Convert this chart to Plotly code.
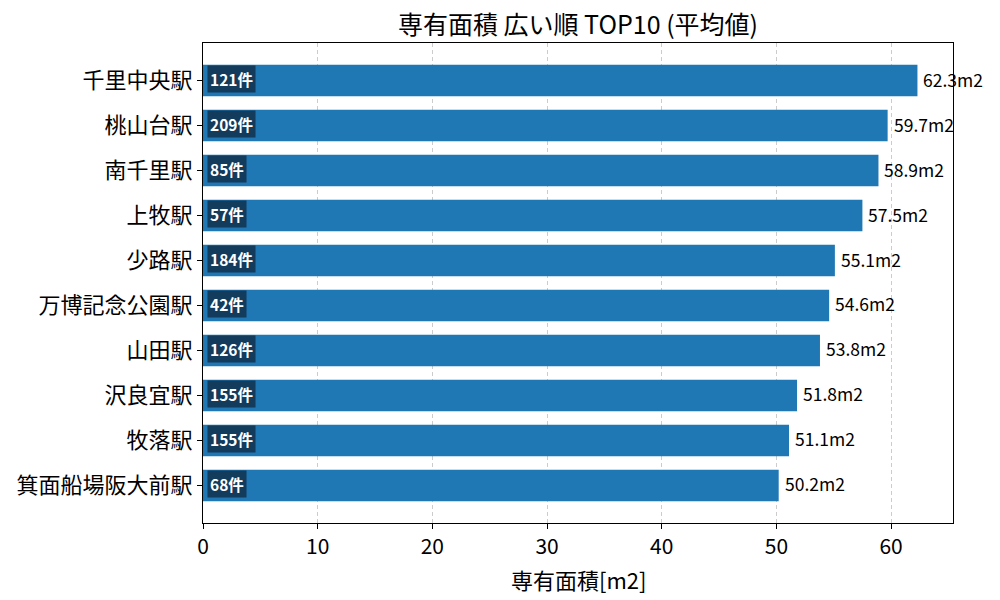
import plotly.graph_objects as go

stations = ["千里中央駅", "桃山台駅", "南千里駅", "上牧駅", "少路駅", "万博記念公園駅",
            "山田駅", "沢良宜駅", "牧落駅", "箕面船場阪大前駅"]
areas = [62.3, 59.7, 58.9, 57.5, 55.1, 54.6, 53.8, 51.8, 51.1, 50.2]
counts = [121, 209, 85, 57, 184, 42, 126, 155, 155, 68]
x_ticks = [0, 10, 20, 30, 40, 50, 60]

FONT = "Noto Sans CJK JP"

fig = go.Figure()
fig.add_trace(go.Bar(
    y=stations, x=areas, orientation="h",
    marker=dict(color="#1f77b4", line=dict(width=0)),
    width=0.7, hoverinfo="skip",
))

annotations = []
for s, a, c in zip(stations, areas, counts):
    annotations.append(dict(
        x=a, y=s, xref="x", yref="y", text=f"{a:.1f}m2",
        showarrow=False, xanchor="left", yanchor="middle", xshift=4, yshift=1.5,
        font=dict(family=FONT, size=17.5, color="black"),
    ))
    annotations.append(dict(
        x=0, y=s, xref="x", yref="y", text=f"<b>{c}件</b>",
        showarrow=False, xanchor="left", yanchor="middle", xshift=4, yshift=1.5,
        font=dict(family=FONT, size=15.5, color="white"),
        bgcolor="#123b5c", borderpad=2,
    ))
annotations.append(dict(
    x=0.5, y=-0.08, xref="paper", yref="paper", text="専有面積[m2]",
    showarrow=False, xanchor="center", yanchor="top",
    font=dict(family=FONT, size=22, color="black"),
))

fig.update_layout(
    width=1000, height=600,
    margin=dict(l=203, r=47, t=43, b=77),
    paper_bgcolor="white", plot_bgcolor="white",
    font=dict(family=FONT, color="black"),
    title=dict(text="専有面積 広い順 TOP10 (平均値)", x=0.578, xanchor="center",
               y=0.958, yanchor="middle", font=dict(family=FONT, size=25, color="black")),
    showlegend=False,
    annotations=annotations,
    bargap=0.3,
)
fig.update_xaxes(
    range=[0, 65.4], tickvals=x_ticks, ticktext=[str(v) for v in x_ticks],
    showgrid=True, gridcolor="#cccccc", griddash="4px,3px", gridwidth=1,
    showline=True, linecolor="black", linewidth=1, mirror=True,
    ticks="outside", ticklen=5, tickcolor="black",
    tickfont=dict(family=FONT, size=21, color="black"),
    zeroline=False,
)
fig.update_yaxes(
    autorange=False, range=[len(stations) - 1 + 0.835, -0.835],
    categoryorder="array", categoryarray=stations,
    showgrid=False,
    showline=True, linecolor="black", linewidth=1, mirror=True,
    ticks="outside", ticklen=5, tickcolor="black",
    tickfont=dict(family=FONT, size=22, color="black"),
)

fig.write_html("out.html")
